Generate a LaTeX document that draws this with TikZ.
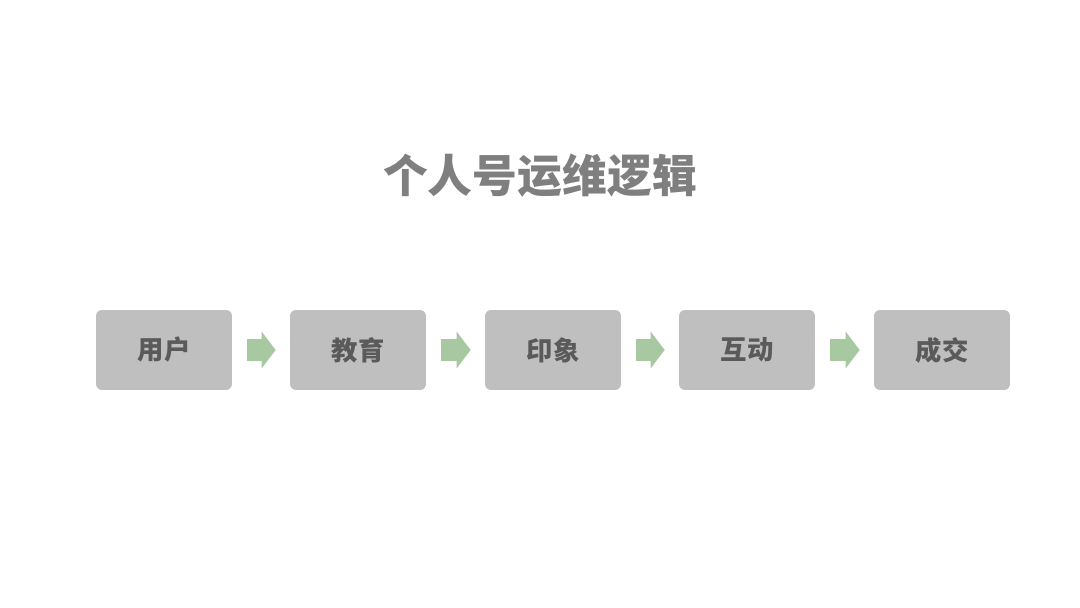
\documentclass[tikz,border=0pt]{standalone}
\usepackage{fontspec}
\newfontfamily\cjk{Noto Sans CJK SC}
\usetikzlibrary{arrows.meta}
\definecolor{stepgrey}{HTML}{BFBFBF}
\definecolor{stepink}{HTML}{5A5A5A}
\definecolor{titleink}{HTML}{7F7F7F}
\definecolor{flowgreen}{HTML}{A8C8A2}

\begin{document}
\begin{tikzpicture}[x=0.02cm, y=-0.02cm]
  % one unit = one pixel of the 1080x608 slide, y runs downwards
  \useasboundingbox[fill=white] (0,0) rectangle (1080,608);
  \tikzset{
    stepbox/.style={fill=stepgrey, rounded corners=0.12cm, minimum width=2.72cm,
                    minimum height=1.6cm, inner sep=0pt,
                    font=\cjk\bfseries\fontsize{15}{18}\selectfont, text=stepink},
    flow/.style={draw=flowgreen, line width=0.44cm,
                 -{Triangle[length=0.28cm, width=0.72cm]}, shorten <=0.3cm,
                 shorten >=0.28cm}}

  % ---------- title ----------
  \node[font=\cjk\bfseries\fontsize{25.5}{30}\selectfont, text=titleink]
    (title) at (540,176) {个人号运维逻辑};

  % ---------- the five steps, 194px apart ----------
  \node[stepbox] (user)   at (164,350) {用户};
  \node[stepbox] (teach)  at (358,350) {教育};
  \node[stepbox] (image)  at (553,350) {印象};
  \node[stepbox] (mutual) at (747,350) {互动};
  \node[stepbox] (deal)   at (942,350) {成交};

  % ---------- block arrows between them ----------
  \draw[flow] (user)   -- (teach);
  \draw[flow] (teach)  -- (image);
  \draw[flow] (image)  -- (mutual);
  \draw[flow] (mutual) -- (deal);
\end{tikzpicture}
\end{document}
